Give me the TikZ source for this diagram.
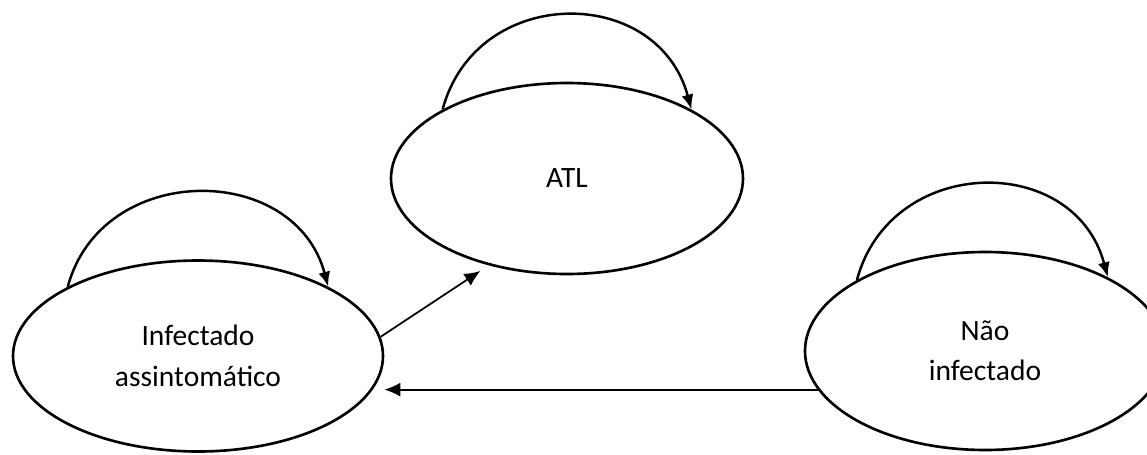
\documentclass[tikz,border=0pt]{standalone}
\usepackage{fontspec}
\setmainfont{Carlito}
\usetikzlibrary{shapes.geometric, arrows.meta}

\begin{document}
\begin{tikzpicture}[
    estado/.style={draw, ellipse, line width=1.5pt, inner sep=0pt, align=center,
        font=\fontsize{16.8}{23}\selectfont},
    laco/.style={line width=1.4pt, -{Latex[length=0.3cm, width=0.24cm]}},
    seta/.style={line width=1pt, -{Latex[length=0.32cm, width=0.28cm]}}
]
    \useasboundingbox (0, 0) rectangle (22.94, 9.08);
    % \draw[step=1cm,gray,ultra thin] (0, 0) grid (23, 9);

    \node[estado, minimum width=7.04cm, minimum height=3.82cm] (atl) at (11.34, 5.51) {ATL};
    \node[estado, minimum width=7.40cm, minimum height=3.82cm] (inf) at (3.96, 1.96) {Infectado\\assintomático};
    \node[estado, minimum width=7.20cm, minimum height=3.96cm] (nao) at (19.70, 2.06) {Não\\infectado};

    \draw[laco] (atl.151) .. controls +(75:2.6) and +(105:2.6) .. (atl.29);
    \draw[laco] (inf.152) .. controls +(75:2.6) and +(105:2.6) .. (inf.28);
    \draw[laco] (nao.151) .. controls +(75:2.6) and +(105:2.6) .. (nao.31);

    \draw[seta, shorten >=0.2cm] (inf.6) -- (atl.228);
    \draw[seta] (nao.193) -- (nao.193 -| inf.east);

\end{tikzpicture}
\end{document}
